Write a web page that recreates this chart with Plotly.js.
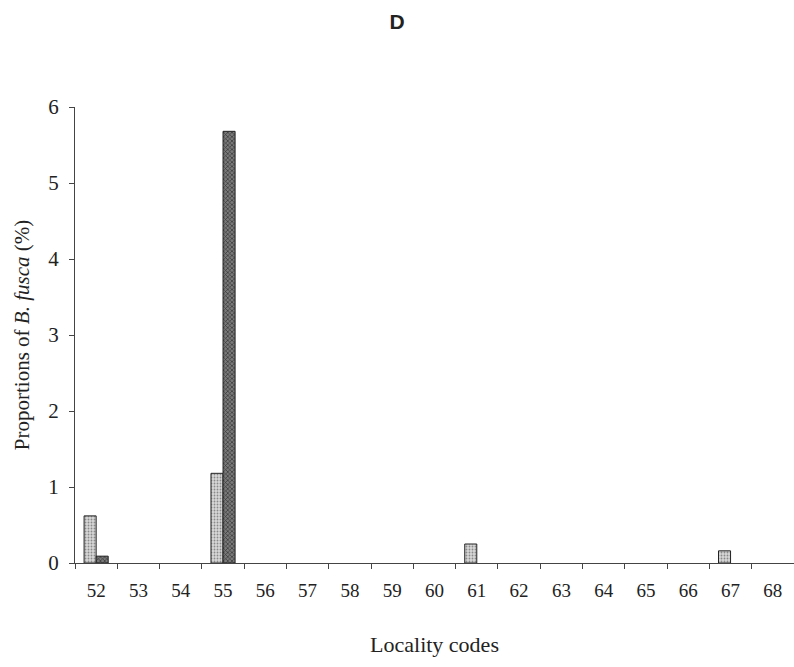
<!DOCTYPE html>
<html>
<head>
<meta charset="utf-8">
<script src="https://cdn.plot.ly/plotly-3.0.1.min.js"></script>
<style>html,body{margin:0;padding:0;background:#fff;}#chart{width:794px;height:667px;}</style>
</head>
<body>
<div id="chart"></div>
<script>
const localityCodes = ["52","53","54","55","56","57","58","59","60","61","62","63","64","65","66","67","68"];
const seriesLight = [0.62,null,null,1.18,null,null,null,null,null,0.25,null,null,null,null,null,0.16,null];
const seriesDark  = [0.09,null,null,5.68,null,null,null,null,null,null,null,null,null,null,null,null,null];
const yTicks = [0,1,2,3,4,5,6];

const serif = "Liberation Serif, Times New Roman, serif";

const traces = [
  {
    type: "bar", x: localityCodes, y: seriesLight, name: "light",
    marker: {
      color: "#d2d2d2",
      line: {color: "#222", width: 1},
      pattern: {shape: ".", fgcolor: "#8a8a8a", bgcolor: "#d8d8d8", size: 3, solidity: 0.3}
    }
  },
  {
    type: "bar", x: localityCodes, y: seriesDark, name: "dark",
    marker: {
      color: "#555",
      line: {color: "#222", width: 1},
      pattern: {shape: "x", fgcolor: "#333", bgcolor: "#7a7a7a", size: 3, solidity: 0.4}
    }
  }
];

const layout = {
  width: 794, height: 667,
  margin: {l: 75, r: 0, t: 107, b: 104},
  paper_bgcolor: "#fff", plot_bgcolor: "#fff",
  showlegend: false,
  barmode: "group", bargap: 0.43, bargroupgap: 0,
  title: {text: "<b>D</b>", x: 0.5, xanchor: "center", y: 0.967, yanchor: "middle",
          font: {family: "Liberation Sans, Arial, sans-serif", size: 21, color: "#222"}},
  xaxis: {
    type: "category", categoryarray: localityCodes,
    tickson: "boundaries", ticks: "outside", ticklen: 5, tickcolor: "#444",
    showline: true, linecolor: "#444", linewidth: 1,
    showgrid: false, zeroline: false,
    ticklabelstandoff: 10,
    tickfont: {family: serif, size: 19, color: "#222"},
    title: {text: "Locality codes", font: {family: serif, size: 22, color: "#222"}, standoff: 36}
  },
  yaxis: {
    range: [0, 6], tickvals: yTicks, ticktext: yTicks.map(String),
    ticks: "outside", ticklen: 5, tickcolor: "#444",
    showline: true, linecolor: "#444", linewidth: 1,
    showgrid: false, zeroline: false,
    ticklabelstandoff: 6,
    tickfont: {family: serif, size: 21, color: "#222"},
    title: {text: "Proportions of <i>B. fusca</i> (%)", font: {family: serif, size: 21, color: "#222"}, standoff: 12}
  }
};

Plotly.newPlot("chart", traces, layout, {staticPlot: true, displayModeBar: false});
</script>
</body>
</html>
